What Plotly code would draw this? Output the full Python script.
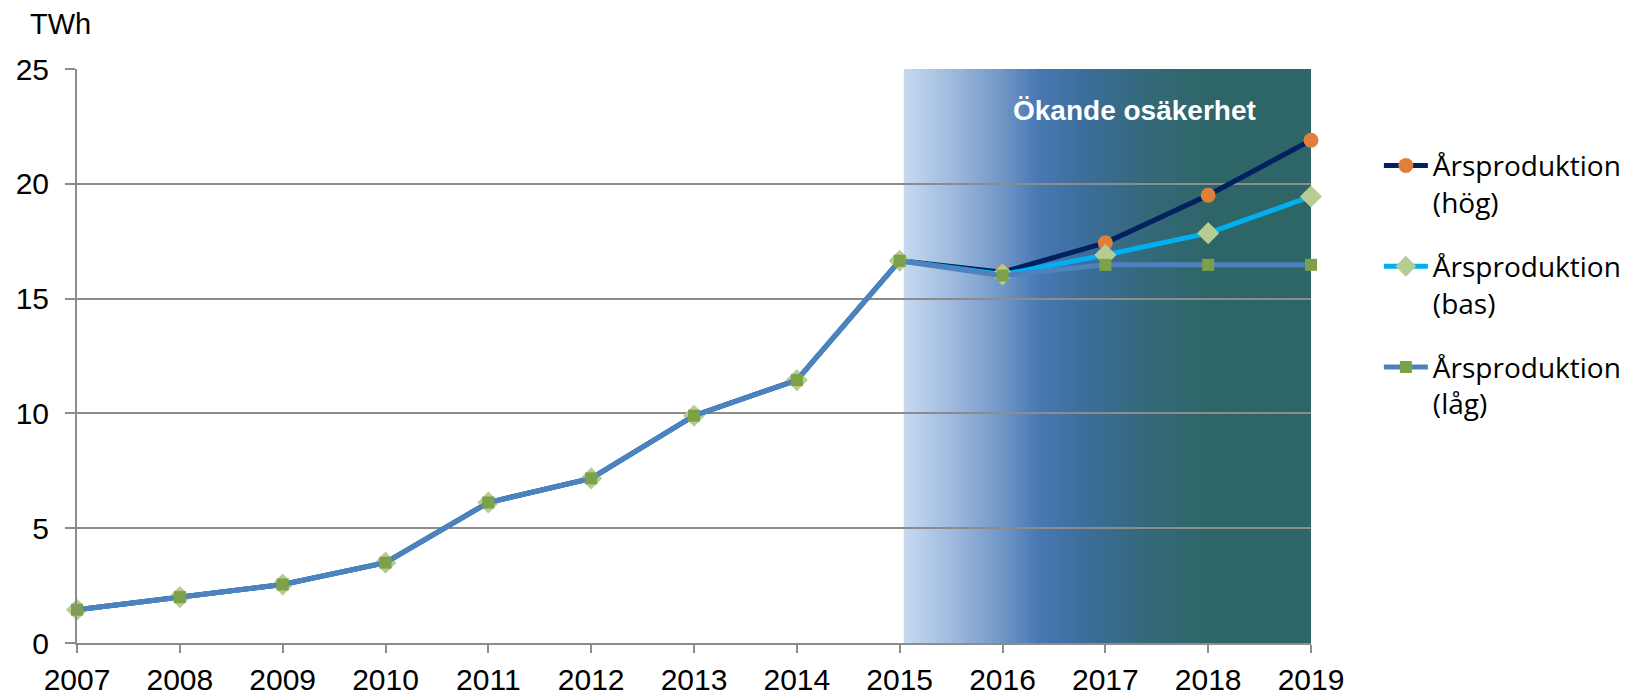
import numpy as np
import plotly.graph_objects as go

years = list(range(2007, 2020))
hog = [1.45, 2.0, 2.55, 3.5, 6.12, 7.17, 9.9, 11.45, 16.65, 16.15, 17.43, 19.5, 21.9]
bas = [1.45, 2.0, 2.55, 3.5, 6.12, 7.17, 9.9, 11.45, 16.65, 16.05, 16.9, 17.85, 19.45]
lag = [1.45, 2.0, 2.55, 3.5, 6.12, 7.17, 9.9, 11.45, 16.65, 16.0, 16.47, 16.47, 16.47]
names = ["Årsproduktion<br>(hög)", "Årsproduktion<br>(bas)", "Årsproduktion<br>(låg)"]
band_text = "Ökande osäkerhet"
y_unit = "TWh"

fig = go.Figure()

# gradient band (decoration): stacked rects, each later one drawn on top
stops_x = [2015.04, 2015.5, 2016.0, 2016.35, 2016.8, 2017.4, 2018.0, 2019.0]
stops_c = [(198, 217, 240), (160, 187, 222), (112, 150, 198), (72, 120, 180),
           (60, 110, 155), (52, 105, 122), (46, 102, 104), (46, 102, 104)]
n = 160
edges = np.linspace(2015.04, 2019.0, n + 1)
for i in range(n):
    xm = (edges[i] + edges[i + 1]) / 2
    c = [int(round(np.interp(xm, stops_x, [s[k] for s in stops_c]))) for k in range(3)]
    fig.add_shape(type="rect", xref="x", yref="y", x0=edges[i], x1=2019.0,
                  y0=0, y1=25, fillcolor=f"rgb({c[0]},{c[1]},{c[2]})",
                  line=dict(width=0), layer="below")

specs = [
    (hog, "#002060", "#DF7F3A", "circle", 15),
    (bas, "#00B0F0", "#B5CD93", "diamond", 17),
    (lag, "#4F81BD", "#7DA148", "square", 12),
]
for (vals, lc, mc, sym, sz), nm in zip(specs, names):
    fig.add_trace(go.Scatter(
        x=years, y=vals, name=nm, mode="lines+markers", legendgroup=nm,
        line=dict(color=lc, width=5),
        marker=dict(color=mc, symbol=sym, size=sz, line=dict(width=0)),
        cliponaxis=False,
    ))

fig.add_annotation(x=2017.28, y=23.2, xref="x", yref="y", text=f"<b>{band_text}</b>",
                   showarrow=False, font=dict(family="Liberation Sans, Arial", size=28, color="white"))
fig.add_annotation(x=-0.0395, y=1.078, xref="paper", yref="paper", text=y_unit,
                   showarrow=False, xanchor="left", yanchor="middle",
                   font=dict(family="Liberation Sans, Arial", size=29, color="black"))

fig.update_layout(
    width=1633, height=697,
    margin=dict(l=77, r=322, t=69, b=54, autoexpand=False),
    paper_bgcolor="white", plot_bgcolor="white",
    font=dict(family="Liberation Sans, Arial", size=30, color="black"),
    showlegend=True,
    legend=dict(x=1.055, y=0.875, xanchor="left", yanchor="top", valign="top",
                font=dict(family="Open Sans", size=28, color="black"),
                tracegroupgap=25, bgcolor="rgba(0,0,0,0)", itemwidth=44),
    xaxis=dict(range=[2007, 2019], dtick=1, tick0=2007, tickformat="d", automargin=False,
               showgrid=False, zeroline=False, showline=True, linecolor="#8C8C8C", linewidth=2,
               ticks="outside", ticklen=8, tickcolor="#8C8C8C", tickwidth=2,
               ticklabelstandoff=1, tickfont=dict(size=30)),
    yaxis=dict(range=[0, 25], dtick=5, showgrid=True, gridcolor="#8C8C8C", gridwidth=2,
               automargin=False,
               zeroline=False, showline=True, linecolor="#8C8C8C", linewidth=2,
               ticks="outside", ticklen=10, tickcolor="#8C8C8C", tickwidth=2,
               ticklabelstandoff=10, tickfont=dict(size=30)),
)

fig.write_html("out.html", post_script="document.body.style.margin='0';",
               config={"displayModeBar": False})
